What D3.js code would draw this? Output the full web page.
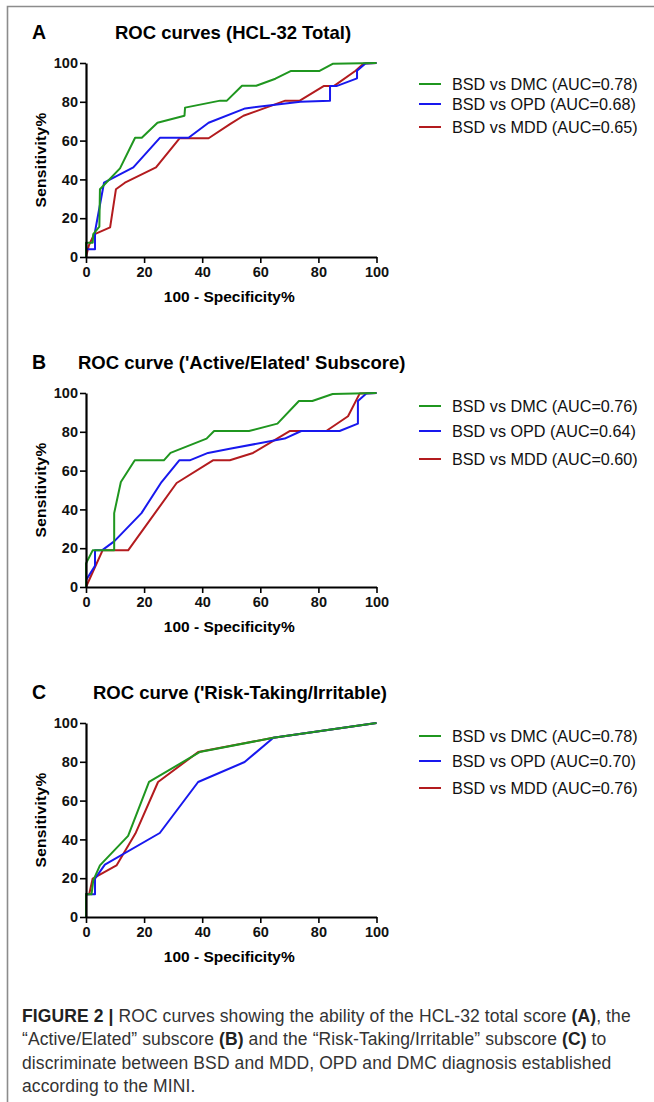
<!DOCTYPE html>
<html>
<head>
<meta charset="utf-8">
<script src="https://cdn.jsdelivr.net/npm/d3@7/dist/d3.min.js"></script>
<style>
  body { margin: 0; background: #fff; }
  svg { display: block; }
  .tick-label { font-family: "Liberation Sans", Arial, sans-serif; font-weight: bold; font-size: 14.5px; }
  .axis-title { font-family: "Liberation Sans", Arial, sans-serif; font-weight: bold; font-size: 15.5px; }
  .legend-text { font-family: "Liberation Sans", Arial, sans-serif; font-size: 16.2px; fill: #111; }
  .caption { font-family: "Liberation Sans", Arial, sans-serif; font-size: 17.5px; fill: #333; letter-spacing: 0.1px; }
</style>
</head>
<body>
<div id="wrapper"></div>
<script>
// 1. Data: [100 - specificity %, sensitivity %]

const seriesNames = ["BSD vs DMC", "BSD vs OPD", "BSD vs MDD"];
const seriesColors = ["#1f961f", "#1818ee", "#b31b1e"];

const totalAuc = [0.78, 0.68, 0.65];
const totalDmc = [[0,0],[0,7.4],[2.3,7.4],[2.5,11.8],[4.6,15.6],[4.8,34.9],[11.7,45.7],[16.9,61.5],[19.2,61.5],[24.6,69.2],[33.9,72.8],[34.1,77],[46.2,80.6],[48.5,80.6],[53.7,88.3],[58.6,88.3],[65.2,91.9],[70.6,95.9],[80.4,95.9],[84.9,99.6],[100,100]];
const totalOpd = [[0,0],[0,4],[3.1,4],[3.1,13],[6.2,38.3],[16.3,46.2],[25.5,61.5],[35.3,61.5],[42.2,69.2],[54.8,76.6],[73.8,80],[84,80.6],[84,88.1],[86.2,88.1],[93.3,92.1],[93.3,96],[96.2,99.8],[100,100]];
const totalMdd = [[0,0],[1,6],[2.8,11.7],[8.3,15.3],[10.3,34.9],[13.4,38.3],[24.1,46.2],[32.2,61.2],[42.2,61.2],[49.7,68.6],[54.2,72.8],[68.6,80.6],[73.6,80.6],[81.8,88.1],[85.3,88.1],[92.8,96],[95.6,99.8],[100,100]];

const activeAuc = [0.76, 0.64, 0.60];
const activeDmc = [[0,0],[0,12.1],[2.3,18.9],[9.7,18.9],[9.7,38.1],[12,54.1],[16.8,65.3],[26.8,65.3],[29.1,69.1],[41.5,76.5],[44.1,80.4],[56.1,80.4],[65.9,84.2],[73.3,95.9],[77.9,95.9],[84.9,99.5],[100,100]];
const activeOpd = [[0,0],[0,3.5],[3.1,11],[3.1,18.9],[5.5,18.9],[9.7,23.5],[19.1,38.1],[26,54.1],[32.1,65.3],[35.7,65.3],[42,69.1],[49.5,71.3],[68.4,76.5],[74.1,80.4],[87.3,80.4],[93.6,84.2],[93.6,95.9],[96.5,99.7],[100,100]];
const activeMdd = [[0,0],[5.7,18.9],[14.5,18.9],[31.2,53.6],[43.7,65.3],[49.5,65.3],[57.5,69.1],[70.1,80.4],[82.7,80.4],[90.2,88],[94.2,99.7],[100,100]];

const riskAuc = [0.78, 0.70, 0.76];
const riskDmc = [[0,0],[0,11.7],[1.9,11.7],[2.5,18.9],[4.8,26.6],[14.5,41.8],[21.7,69.6],[39.1,85],[64.5,92.4],[100,100]];
const riskOpd = [[0,0],[0,11.7],[3.1,11.7],[3.1,19.8],[6.5,27],[25.4,43.3],[38.6,69.6],[54.6,79.9],[64.5,92.4],[100,100]];
const riskMdd = [[0,0],[0,11.7],[1.1,11.7],[2.3,19.8],[10.5,26.6],[17,43],[24.8,69.6],[38.6,85],[64.5,92.4],[100,100]];

const axisTicks = [0, 20, 40, 60, 80, 100];

const panels = [
  { letter: "A", title: "ROC curves (HCL-32 Total)", titleX: 115, top: 63,
    auc: totalAuc, series: [totalDmc, totalOpd, totalMdd], legendY: [21, 41, 64] },
  { letter: "B", title: "ROC curve ('Active/Elated' Subscore)", titleX: 78, top: 393,
    auc: activeAuc, series: [activeDmc, activeOpd, activeMdd], legendY: [13, 38, 66] },
  { letter: "C", title: "ROC curve ('Risk-Taking/Irritable)", titleX: 93, top: 723,
    auc: riskAuc, series: [riskDmc, riskOpd, riskMdd], legendY: [13, 38, 65] },
];

function drawFigure() {

  // 2. Dimensions

  const dimensions = {
    width: 654,
    height: 1102,
    plotLeft: 86,
    plotWidth: 290.5,
    plotHeight: 194,
  };

  const xAccessor = d => d[0];
  const yAccessor = d => d[1];

  // 3. Canvas

  const svg = d3.select("#wrapper")
    .append("svg")
      .attr("width", dimensions.width)
      .attr("height", dimensions.height);

  // grey frame round the figure (top and left only)
  svg.append("path")
    .attr("d", `M7.5,1102 V6.5 H654`)
    .attr("fill", "none")
    .attr("stroke", "#8c8c8c")
    .attr("stroke-width", 1.6);

  // 4. Scales

  const xScale = d3.scaleLinear()
    .domain([0, 100])
    .range([0, dimensions.plotWidth]);
  const yScale = d3.scaleLinear()
    .domain([0, 100])
    .range([dimensions.plotHeight, 0]);

  const lineGenerator = d3.line()
    .x(d => xScale(xAccessor(d)))
    .y(d => yScale(yAccessor(d)));

  // 5. Panels

  panels.forEach(panel => {
    const bounds = svg.append("g")
      .attr("transform", `translate(${dimensions.plotLeft}, ${panel.top})`);

    svg.append("text")
      .attr("x", 32)
      .attr("y", panel.top - 24)
      .style("font-family", "Liberation Sans, Arial, sans-serif")
      .style("font-weight", "bold")
      .style("font-size", "19.5px")
      .text(panel.letter);
    svg.append("text")
      .attr("x", panel.titleX)
      .attr("y", panel.top - 24)
      .style("font-family", "Liberation Sans, Arial, sans-serif")
      .style("font-weight", "bold")
      .style("font-size", "18.5px")
      .text(panel.title);

    // curves, drawn so green ends on top
    [2, 1, 0].forEach(i => {
      bounds.append("path")
        .datum(panel.series[i])
        .attr("d", lineGenerator)
        .attr("fill", "none")
        .attr("stroke", seriesColors[i])
        .attr("stroke-width", 2)
        .attr("stroke-linejoin", "round");
    });

    const xAxis = d3.axisBottom(xScale)
      .tickValues(axisTicks)
      .tickSize(6)
      .tickPadding(4)
      .tickSizeOuter(0);
    const yAxis = d3.axisLeft(yScale)
      .tickValues(axisTicks)
      .tickSize(6)
      .tickPadding(2)
      .tickSizeOuter(0);

    const xAxisGroup = bounds.append("g")
      .attr("transform", `translate(0, ${dimensions.plotHeight})`)
      .call(xAxis);
    const yAxisGroup = bounds.append("g")
      .call(yAxis);

    [xAxisGroup, yAxisGroup].forEach(g => {
      g.select(".domain")
        .attr("stroke", "#000")
        .attr("stroke-width", 2.2);
      g.selectAll(".tick line")
        .attr("stroke", "#000")
        .attr("stroke-width", 1.6);
      g.selectAll(".tick text")
        .attr("class", "tick-label")
        .attr("fill", "#111")
        .attr("font-family", null)
        .attr("font-size", null);
    });

    bounds.append("text")
      .attr("class", "axis-title")
      .attr("x", dimensions.plotWidth / 2 - 2)
      .attr("y", dimensions.plotHeight + 45)
      .attr("text-anchor", "middle")
      .text("100 - Specificity%");

    bounds.append("text")
      .attr("class", "axis-title")
      .attr("transform", `translate(-40, ${dimensions.plotHeight / 2}) rotate(-90)`)
      .attr("text-anchor", "middle")
      .style("letter-spacing", "0.3px")
      .text("Sensitivity%");

    // legend
    const legend = svg.append("g")
      .attr("transform", `translate(419, ${panel.top})`);
    seriesNames.forEach((name, i) => {
      const row = legend.append("g")
        .attr("transform", `translate(0, ${panel.legendY[i]})`);
      row.append("line")
        .attr("x1", 0)
        .attr("x2", 22)
        .attr("stroke", seriesColors[i])
        .attr("stroke-width", 2);
      row.append("text")
        .attr("class", "legend-text")
        .attr("x", 33)
        .attr("dy", "0.36em")
        .text(`${name} (AUC=${panel.auc[i].toFixed(2)})`);
    });
  });

  // 6. Caption

  const captionLines = [
    [["FIGURE 2 | ", true], ["ROC curves showing the ability of the HCL-32 total score ", false], ["(A)", true], [", the", false]],
    [["\u201CActive/Elated\u201D subscore ", false], ["(B)", true], [" and the \u201CRisk-Taking/Irritable\u201D subscore ", false], ["(C)", true], [" to", false]],
    [["discriminate between BSD and MDD, OPD and DMC diagnosis established", false]],
    [["according to the MINI.", false]],
  ];
  const caption = svg.append("text")
    .attr("class", "caption");
  captionLines.forEach((parts, i) => {
    parts.forEach(([str, bold], j) => {
      const t = caption.append("tspan")
        .text(str)
        .style("font-weight", bold ? "bold" : "normal")
        .style("fill", bold ? "#222" : "#333");
      if (j === 0) t.attr("x", 22).attr("y", 1021.5 + i * 23.5);
    });
  });
}
drawFigure();
</script>
</body>
</html>
